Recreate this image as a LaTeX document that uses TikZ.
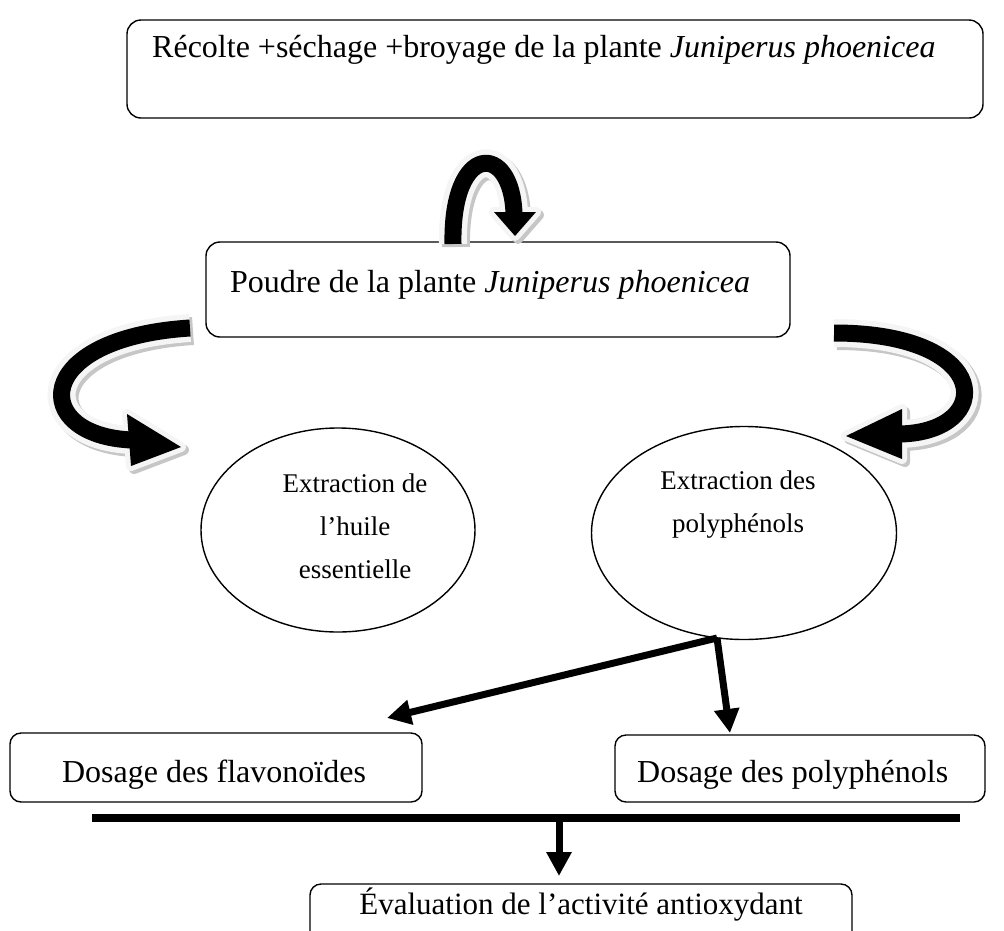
\documentclass[tikz,border=0pt]{standalone}
\usepackage{fontspec}
\setmainfont{Liberation Serif}
\usetikzlibrary{arrows.meta,shapes.geometric}
\begin{document}
\begin{tikzpicture}[x=1pt,y=-1pt,
  box/.style={draw=black, line width=1.4pt, rounded corners=14pt, inner sep=0pt},
  txt/.style={font=\fontsize{32}{38}\selectfont, inner sep=0pt},
  ell/.style={draw=black, line width=1.4pt, ellipse, inner sep=0pt},
  etxt/.style={font=\fontsize{27}{43}\selectfont, align=center, inner sep=0pt},
  conn/.style={line width=7pt, -{Triangle[length=24pt,width=24pt]}},
  bandshadow/.style={line width=28pt, draw=gray!45},
  bandout/.style={line width=28pt, draw=gray!8},
  band/.style={line width=17pt, draw=black},
  headshadow/.style={fill=gray!45, draw=gray!45, line width=10pt, line join=round},
  headout/.style={fill=gray!8, draw=gray!8, line width=10pt, line join=round},
  head/.style={fill=black},
]
\useasboundingbox (0,0) rectangle (1004,930);
\clip (0,0) rectangle (1004,930);

% ---------- boxes ----------
\node[box, minimum width=856pt, minimum height=98pt] (harvest) at (555,69) {};
\node[txt, anchor=base west] (harvesttxt) at (152,57) {Récolte +séchage +broyage de la plante \textit{Juniperus phoenicea}};

\node[box, minimum width=584pt, minimum height=95pt] (powder) at (498,289.5) {};
\node[txt, anchor=base west] (powdertxt) at (230,292) {Poudre de la plante \textit{Juniperus phoenicea}};

% ---------- curved block arrows ----------
\def\toparc{(453,244) .. controls (451,142) and (512,142) .. (514,214)}
\def\tophead{(494,212) -- (536,212) -- (515,236) -- cycle}
\def\leftarc{(190,328) .. controls (30,338) and (30,436) .. (132,440)}
\def\lefthead{(127,414) -- (181,447) -- (131,466) -- cycle}
\def\rightarc{(834,333) .. controls (995,333) and (995,432) .. (900,434)}
\def\righthead{(902,409) -- (902,459) -- (846,436) -- cycle}

\begin{scope}[shift={(3,3)}]
  \draw[bandshadow] \toparc;  \filldraw[headshadow] \tophead;
  \draw[bandshadow] \leftarc; \filldraw[headshadow] \lefthead;
  \draw[bandshadow] \rightarc; \filldraw[headshadow] \righthead;
\end{scope}
\draw[bandout] \toparc;  \filldraw[headout] \tophead;
\draw[bandout] \leftarc; \filldraw[headout] \lefthead;
\draw[bandout] \rightarc; \filldraw[headout] \righthead;
\draw[band] \toparc;  \fill[head] \tophead;
\draw[band] \leftarc; \fill[head] \lefthead;
\draw[band] \rightarc; \fill[head] \righthead;

% ---------- ellipses ----------
\node[ell, minimum width=274pt, minimum height=204pt] (oil) at (338,530) {};
\node[etxt] (oiltxt) at (355,526) {Extraction de\\l’huile\\essentielle};

\node[ell, minimum width=305pt, minimum height=213pt] (poly) at (744,533) {};
\node[etxt] (polytxt) at (738,505) {Extraction des\\polyphénols};

% ---------- lower boxes ----------
\node[box, rounded corners=11pt, minimum width=412pt, minimum height=69pt] (flav) at (216,767.5) {};
\node[txt, anchor=base] (flavtxt) at (214,782) {Dosage des flavonoïdes};

\node[box, rounded corners=11pt, minimum width=370pt, minimum height=67pt] (dpoly) at (800,768.5) {};
\node[txt, anchor=base west] (dpolytxt) at (637,782) {Dosage des polyphénols};

\node[box, rounded corners=11pt, minimum width=542pt, minimum height=90pt] (anti) at (581,929) {};
\node[txt, font=\fontsize{31}{36}\selectfont, anchor=base] (antitxt) at (581,914) {Évaluation de l’activité antioxydant};

% ---------- connectors ----------
\coordinate (split) at (717,638);
\coordinate (flavin) at (387,718);
\coordinate (dpolyin) at (730,733);
\draw[conn] (split) -- (flavin);
\draw[conn] (split) -- (dpolyin);

\coordinate (barL) at (92,818);
\coordinate (barR) at (960,818);
\coordinate (barmid) at (559,818);
\coordinate (antiin) at (559,876);
\draw[line width=8pt] (barL) -- (barR);
\draw[conn] (barmid) -- (antiin);
\end{tikzpicture}
\end{document}
